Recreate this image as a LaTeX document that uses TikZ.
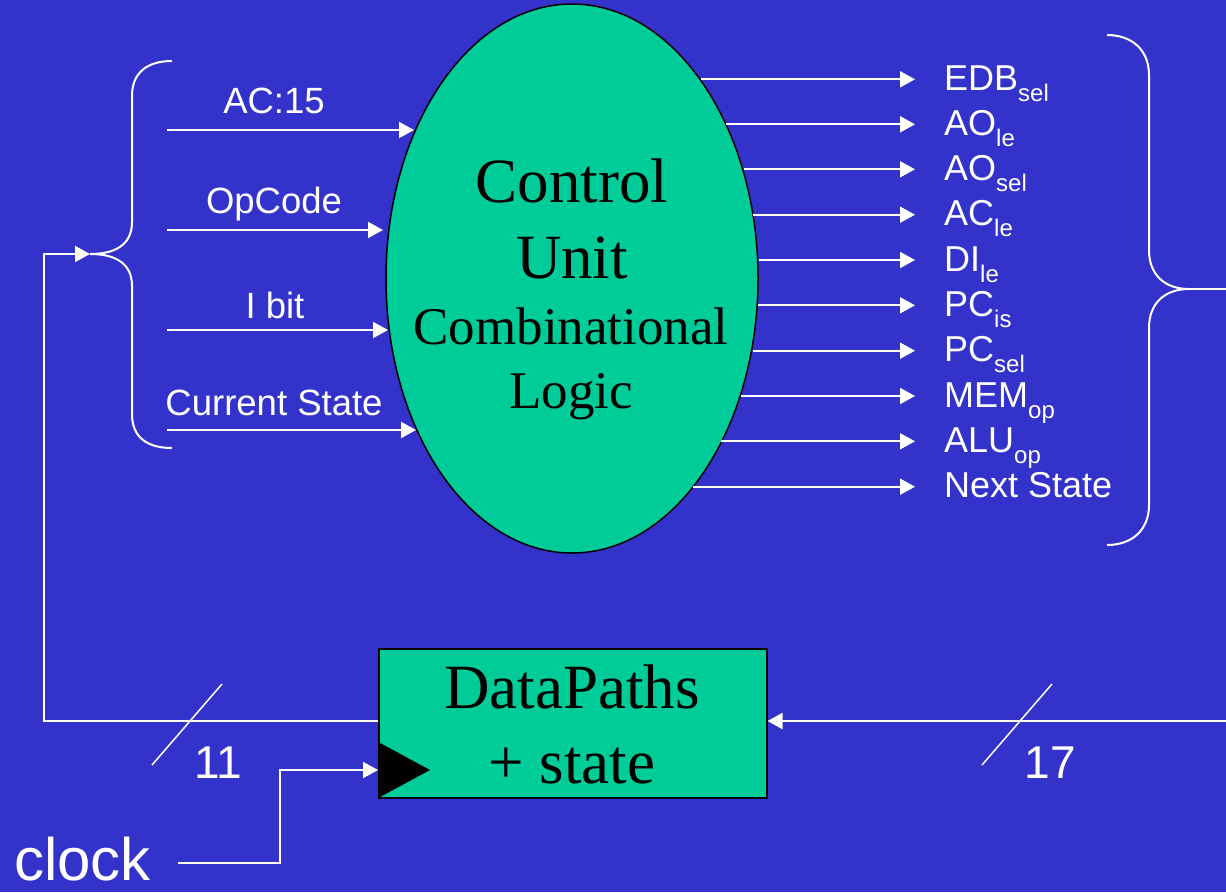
\documentclass[tikz,border=0pt]{standalone}
\usepackage{fontspec}
\setmainfont{Liberation Serif}
\newfontfamily\arialf{Liberation Sans}
\usetikzlibrary{arrows.meta,shapes.geometric}
\definecolor{bgblue}{RGB}{51,51,204}
\definecolor{cugreen}{RGB}{0,204,153}
\newcommand{\mysub}[1]{\raisebox{-11pt}{\fontsize{24}{24}\selectfont #1}}
\begin{document}
\begin{tikzpicture}[x=1pt,y=-1pt,
  wire/.style={draw=white,line width=2pt},
  arr/.style={wire,-{Triangle[length=15pt,width=16pt]}},
  lbl/.style={text=white,font=\arialf\fontsize{36.5}{36.5}\selectfont,inner sep=0pt,anchor=base},
  olbl/.style={text=white,font=\arialf\fontsize{36}{36}\selectfont,inner sep=0pt,anchor=base west},
  bignum/.style={text=white,font=\arialf\fontsize{46}{46}\selectfont,inner sep=0pt,anchor=base},
  serbig/.style={text=black,font=\fontsize{63}{63}\selectfont,inner sep=0pt,anchor=base},
  sermid/.style={text=black,font=\fontsize{53}{53}\selectfont,inner sep=0pt,anchor=base},
  brace/.style={draw=white,line width=2pt},
  slash/.style={draw=white,line width=1.5pt},
]
\fill[bgblue] (0,0) rectangle (1226,892);
\useasboundingbox (0,0) rectangle (1226,892);

% control unit ellipse
\node[ellipse,draw=black,line width=1.5pt,fill=cugreen,minimum width=372pt,minimum height=549pt,inner sep=0pt] (cu) at (572,278.5) {};
\node[serbig] (t1) at (572,202) {Control};
\node[serbig] (t2) at (572,278) {Unit};
\node[sermid] (t3) at (571,344) {Combinational};
\node[sermid] (t4) at (571,408) {Logic};

% left inputs
\node[lbl] (lac) at (274,113) {AC:15};
\node[lbl] (lop) at (274,213) {OpCode};
\node[lbl] (lib) at (275,318) {I bit};
\node[lbl] (lcs) at (274,415) {Current State};
\coordinate (iacs) at (167,130); \coordinate (iace) at (414,130);
\coordinate (iops) at (167,230); \coordinate (iope) at (383,230);
\coordinate (iibs) at (167,330); \coordinate (iibe) at (388,330);
\coordinate (icss) at (167,430); \coordinate (icse) at (416,430);
\draw[arr] (iacs) -- (iace);
\draw[arr] (iops) -- (iope);
\draw[arr] (iibs) -- (iibe);
\draw[arr] (icss) -- (icse);

% left brace
\coordinate (lbtip) at (90,254);
\draw[brace] (172,61) .. controls (148,61) and (132,72) .. (132,96) -- (132,222)
  .. controls (132,245) and (115,254) .. (lbtip)
  .. controls (115,254) and (132,263) .. (132,286) -- (132,414)
  .. controls (132,438) and (148,448) .. (172,448);

% outputs
\foreach \yy/\xs/\txt [count=\k] in {
  79.3/701/EDB\mysub{sel},
  124.3/726/AO\mysub{le},
  169.3/744/AO\mysub{sel},
  214.7/753/AC\mysub{le},
  260/759/DI\mysub{le},
  305.3/758/PC\mysub{is},
  350.7/753/PC\mysub{sel},
  396/741/MEM\mysub{op},
  441.3/721/ALU\mysub{op},
  486.7/693/Next State}{
  \coordinate (os\k) at (\xs,\yy);
  \coordinate (oe\k) at (915,\yy);
  \draw[arr] (os\k) -- (oe\k);
  \node[olbl] (ol\k) at (944,\yy+11) {\txt};
}

% right brace
\coordinate (rbtip) at (1189,289);
\coordinate (rbend) at (1226,289);
\draw[brace] (1107,35) .. controls (1132,35) and (1149,50) .. (1149,75) -- (1149,250)
  .. controls (1149,275) and (1165,289) .. (rbtip)
  .. controls (1165,289) and (1149,303) .. (1149,328) -- (1149,505)
  .. controls (1149,530) and (1132,545) .. (1107,545);
\draw[wire] (rbtip) -- (rbend);

% datapaths box
\node[draw=black,line width=1.5pt,fill=cugreen,minimum width=388pt,minimum height=149pt,inner sep=0pt,anchor=north west] (dp) at (378,648) {};
\node[serbig] (d1) at (572,708) {DataPaths};
\node[serbig] (d2) at (572,783) {+ state};
\fill[black] (380,743) -- (430,770) -- (380,797) -- cycle;

% feedback
\coordinate (fb1) at (44,721);
\coordinate (fb2) at (44,254);
\draw[arr] (dp.west |- fb1) -- (fb1) -- (fb2) -- (lbtip);
\coordinate (rin) at (1226,721);
\draw[arr] (rin) -- (dp.east |- rin);

% bus widths
\draw[slash] (152,765) -- (222,684);
\node[bignum] (n11) at (218,778) {11};
\draw[slash] (982,765) -- (1052,684);
\node[bignum] (n17) at (1050,778) {17};

% clock
\node[text=white,font=\arialf\fontsize{60}{60}\selectfont,inner sep=0pt,anchor=base west] (clk) at (14,880) {clock};
\coordinate (c1) at (178,863);
\coordinate (c2) at (280,863);
\coordinate (c3) at (280,770);
\draw[arr] (c1) -- (c2) -- (c3) -- (dp.west |- c3);
\end{tikzpicture}
\end{document}
